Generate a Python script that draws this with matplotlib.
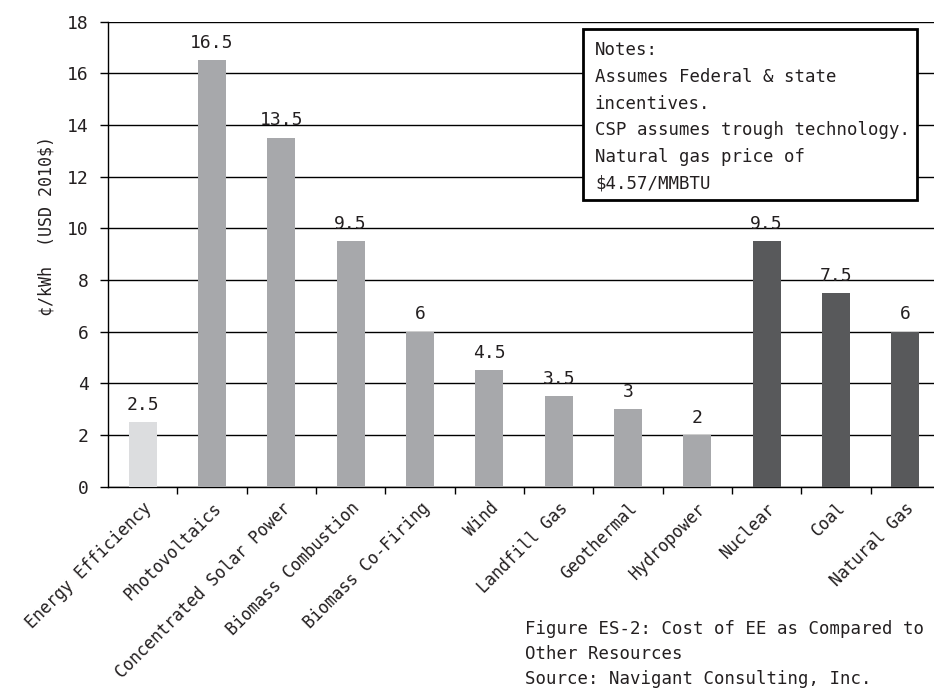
import matplotlib.pyplot as plt
import numpy as np
from matplotlib.patches import Rectangle
from matplotlib.ticker import FixedLocator

plt.rcParams["font.family"] = ["DejaVu Sans Mono", "DejaVu Sans"]

categories = [
    "Energy Efficiency", "Photovoltaics", "Concentrated Solar Power",
    "Biomass Combustion", "Biomass Co-Firing", "Wind", "Landfill Gas",
    "Geothermal", "Hydropower", "Nuclear", "Coal", "Natural Gas",
]
cost = [2.5, 16.5, 13.5, 9.5, 6, 4.5, 3.5, 3, 2, 9.5, 7.5, 6]
group = ["ee"] + ["renewable"] * 8 + ["conventional"] * 3

notes = [
    "Notes:",
    "Assumes Federal & state",
    "incentives.",
    "CSP assumes trough technology.",
    "Natural gas price of",
    "$4.57/MMBTU",
]
caption = [
    "Figure ES-2: Cost of EE as Compared to",
    "Other Resources",
    "Source: Navigant Consulting, Inc.",
]

group_colors = {"ee": "#dcdddf", "renewable": "#a7a8ab", "conventional": "#58595b"}
TEXT = "#231f20"
W, H = 934, 688

fig = plt.figure(figsize=(W / 100, H / 100), dpi=100)
ax = fig.add_axes([108 / W, 1 - 486.7 / H, (940 - 108) / W, (486.7 - 21.5) / H])

x = np.arange(len(categories))
ax.bar(x, cost, width=0.4, color=[group_colors[g] for g in group], zorder=3)
for xi, v in zip(x, cost):
    ax.annotate(f"{v:g}", (xi, v), textcoords="offset points", xytext=(0, 6),
                ha="center", va="bottom", fontsize=13, color=TEXT)

ax.set_xlim(-0.5, len(categories) - 0.5)
ax.set_ylim(0, 18)
ax.set_yticks(np.arange(0, 19, 2))
ax.yaxis.grid(True, color="black", linewidth=1.0, zorder=0)
ax.set_axisbelow(True)

ax.set_xticks(x)
ax.set_xticklabels(categories, rotation=45, ha="right", va="top",
                   rotation_mode="anchor", fontsize=12, color=TEXT)
ax.tick_params(axis="x", which="major", length=0, pad=9)
ax.xaxis.set_minor_locator(FixedLocator(x[:-1] + 0.5))
ax.tick_params(axis="x", which="minor", length=5, width=1, direction="out")
ax.tick_params(axis="y", length=6, width=1, pad=8, labelsize=13, labelcolor=TEXT)

for side in ("top", "right"):
    ax.spines[side].set_visible(False)
ax.spines["left"].set_linewidth(1.0)
ax.spines["bottom"].set_linewidth(1.0)

ax.set_ylabel("¢/kWh  (USD 2010$)", fontsize=12, color=TEXT)
ax.yaxis.set_label_coords(-0.063, 0.56)

# notes box
fig.patches.append(Rectangle((583 / W, 1 - 200 / H), (917 - 583) / W, (200 - 29) / H,
                             transform=fig.transFigure, facecolor="white",
                             edgecolor="black", linewidth=2, zorder=5))
for i, line in enumerate(notes):
    fig.text(595 / W, 1 - (55 + 26.8 * i) / H, line, fontsize=12.5,
             color=TEXT, va="baseline", ha="left", zorder=6)

for i, line in enumerate(caption):
    fig.text(525 / W, 1 - (634 + 25 * i) / H, line, fontsize=12.5,
             color=TEXT, va="baseline", ha="left")

plt.savefig("out.png", dpi=100)
